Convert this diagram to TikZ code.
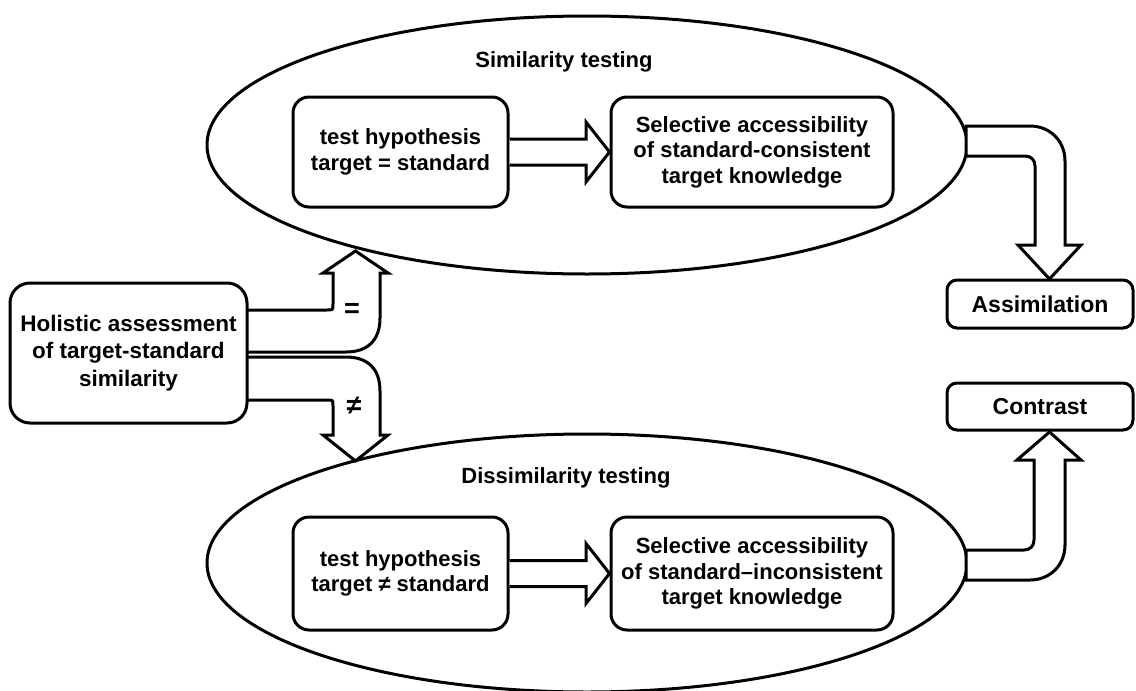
\documentclass[tikz,border=0pt]{standalone}
\usepackage{fontspec}
\setmainfont{Liberation Sans}
\usetikzlibrary{shapes.geometric}
\begin{document}
\begin{tikzpicture}[x=1pt,y=-1pt,
  lw/.style={line width=3pt},
  ell/.style={ellipse, draw, lw, fill=white, minimum width=760pt, minimum height=258pt, inner sep=0pt},
  rbox/.style={draw, lw, rounded corners=16pt, fill=white, align=center, inner sep=0pt, font=\bfseries\fontsize{22}{25.5}\selectfont},
  blk/.style={draw, lw, fill=white, line join=miter},
  lab/.style={font=\bfseries\fontsize{22}{24}\selectfont},
  sym/.style={font=\bfseries\fontsize{27}{27}\selectfont, inner sep=0pt},
]
\useasboundingbox (0,0) rectangle (1136,691);

% ellipses
\node[ell] (ellU) at (587,145) {};
\node[ell] (ellL) at (587,563) {};
\node[lab] (simL) at (564,62) {Similarity testing};
\node[lab] (disL) at (566,478) {Dissimilarity testing};

% inner boxes
\node[rbox, minimum width=215pt, minimum height=110pt] (b1U) at (400.5,152) {test hypothesis\\target = standard};
\node[rbox, minimum width=282pt, minimum height=110pt] (b2U) at (752,152) {Selective accessibility\\of standard-consistent\\target knowledge};
\node[rbox, minimum width=215pt, minimum height=113pt] (b1L) at (400.5,573.5) {test hypothesis\\target ≠ standard};
\node[rbox, minimum width=282pt, minimum height=113pt] (b2L) at (752,573.5) {Selective accessibility\\of standard–inconsistent\\target knowledge};

% inner arrows
\filldraw[blk] (509.5,139) -- (586,139) -- (586,122) -- (b2U.west) -- (586,182) -- (586,165) -- (509.5,165);
\filldraw[blk] (509.5,560.5) -- (586,560.5) -- (586,543.5) -- (b2L.west) -- (586,603.5) -- (586,586.5) -- (509.5,586.5);

% arrows from holistic box
\filldraw[blk] (240,310) -- (327,310) .. controls (333,310) .. (333,304) -- (333,273) -- (323,273) -- (355.5,251) -- (388,273) -- (380,273) -- (380,318) .. controls (380,340) and (368,352) .. (346,352) -- (240,352);
\filldraw[blk] (240,357) -- (346,357) .. controls (368,357) and (380,369) .. (380,391) -- (380,435) -- (388,435) -- (355.5,461) -- (323,435) -- (333,435) -- (333,406) .. controls (333,400) .. (327,400) -- (240,400);

\node[rbox, minimum width=237pt, minimum height=140pt, rounded corners=20pt, font=\bfseries\fontsize{22.5}{27.5}\selectfont] (hol) at (128.5,353) {Holistic assessment\\of target-standard\\similarity};
\node[sym] (eq) at (352,310) {=};
\node[sym] (neq) at (354,406) {≠};

% right arrows
\filldraw[blk] (966,126) -- (1030,126) .. controls (1050,126) and (1065,141) .. (1065,161) -- (1065,245) -- (1081,245) -- (1049.5,279) -- (1018,245) -- (1035,245) -- (1035,166) .. controls (1035,160) and (1031,156) .. (1025,156) -- (966,156) -- cycle;
\filldraw[blk] (966,550) -- (1024,550) .. controls (1030,550) and (1034,546) .. (1034,540) -- (1034,460) -- (1017,460) -- (1049.5,432) -- (1081,460) -- (1065,460) -- (1065,545) .. controls (1065,565) and (1050,580) .. (1030,580) -- (966,580) -- cycle;

\node[rbox, minimum width=186pt, minimum height=48pt, rounded corners=10pt, font=\bfseries\fontsize{23}{23}\selectfont] (assim) at (1040,304) {Assimilation};
\node[rbox, minimum width=186pt, minimum height=47pt, rounded corners=10pt, font=\bfseries\fontsize{23}{23}\selectfont] (contr) at (1040,406.5) {Contrast};
\end{tikzpicture}
\end{document}
